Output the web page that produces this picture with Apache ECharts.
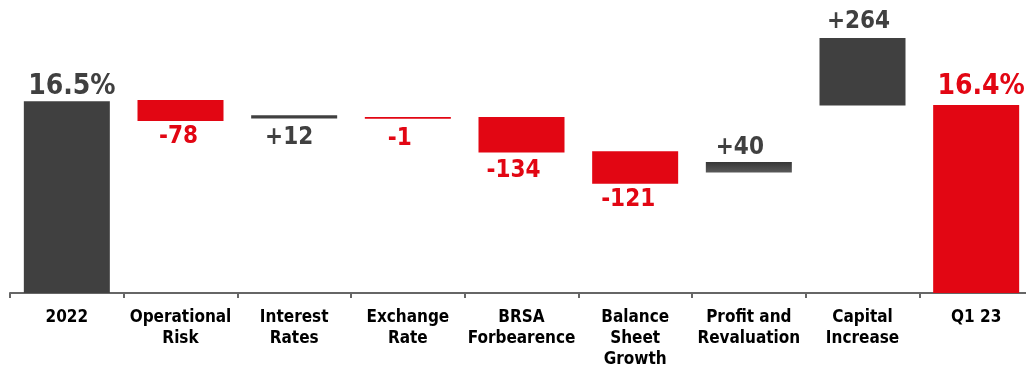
<!DOCTYPE html>
<html>
<head>
<meta charset="utf-8">
<script src="https://cdn.jsdelivr.net/npm/echarts@6/dist/echarts.min.js"></script>
<style>
  html, body { margin: 0; padding: 0; background: #fff; }
  #chart { width: 1026px; height: 365px; }
</style>
</head>
<body>
<div id="chart"></div>
<script>
// Capital ratio walk, levels in basis points
const categories = ['2022', 'Operational\nRisk', 'Interest\nRates', 'Exchange\nRate', 'BRSA\nForbearence',
    'Balance\nSheet\nGrowth', 'Profit and\nRevaluation', 'Capital\nIncrease', 'Q1 23'];
const valueLabels = ['16.5%', '-78', '+12', '-1', '-134', '-121', '+40', '+264', '16.4%'];
const barLow = [0, 1577, 1586, 1585, 1460, 1345, 1386, 1634, 0];
const barHigh = [1650, 1655, 1598, 1592, 1592, 1465, 1425, 1884, 1636];
const isTotal = [true, false, false, false, false, false, false, false, true];
const isRed = [false, true, false, true, true, true, false, false, true];
const labelBelow = [false, true, true, true, true, true, false, false, false];

// label placement tweaks (gap to bar, horizontal nudge) to follow the slide
const labelGap = [1, 4, 7, 8, 6, 4, 2, 4, 4];
const labelShift = [5, -2, -5, -8, -8, -7, -9, -4, 5];

const GREY = '#404040';
const RED = '#e20613';
const FONT = '"DejaVu Sans Condensed", "DejaVu Sans", sans-serif';

const chartDom = document.getElementById('chart');
const chart = echarts.init(chartDom);

const baseData = barLow.map((v, i) => (isTotal[i] ? 0 : v));
const changeData = barHigh.map((v, i) => {
    const color = isRed[i] ? RED : GREY;
    let fill = color;
    if (i === 6) {
        fill = new echarts.graphic.LinearGradient(0, 0, 0, 1, [
            { offset: 0, color: '#363636' },
            { offset: 1, color: '#5a5a5a' }
        ]);
    }
    return {
        value: v - baseData[i],
        itemStyle: { color: fill },
        label: {
            position: labelBelow[i] ? 'bottom' : 'top',
            color: color,
            fontSize: isTotal[i] ? 28 : 24,
            distance: labelGap[i],
            offset: [labelShift[i], 0]
        }
    };
});

const option = {
    animation: false,
    // axis runs a little past the right edge, as in the original slide
    grid: { left: 10, right: -7, top: 0, bottom: 72, outerBoundsMode: 'none' },
    xAxis: {
        type: 'category',
        data: categories,
        axisLine: { lineStyle: { color: '#666', width: 2 } },
        axisTick: { show: true, length: 5, lineStyle: { color: '#666', width: 2 } },
        axisLabel: {
            interval: 0,
            margin: 14,
            color: '#000',
            fontFamily: FONT,
            fontWeight: 'bold',
            fontSize: 17,
            lineHeight: 21
        }
    },
    yAxis: {
        type: 'value',
        min: 940,
        max: 2025,
        show: false,
        splitLine: { show: false }
    },
    series: [
        {
            name: 'base',
            type: 'bar',
            stack: 'walk',
            barWidth: 86,
            itemStyle: { color: 'transparent' },
            data: baseData
        },
        {
            name: 'change',
            type: 'bar',
            stack: 'walk',
            barWidth: 86,
            label: {
                show: true,
                fontFamily: FONT,
                fontWeight: 'bold',
                formatter: p => valueLabels[p.dataIndex]
            },
            data: changeData
        }
    ]
};
chart.setOption(option);
window.addEventListener('resize', () => chart.resize());
</script>
</body>
</html>
